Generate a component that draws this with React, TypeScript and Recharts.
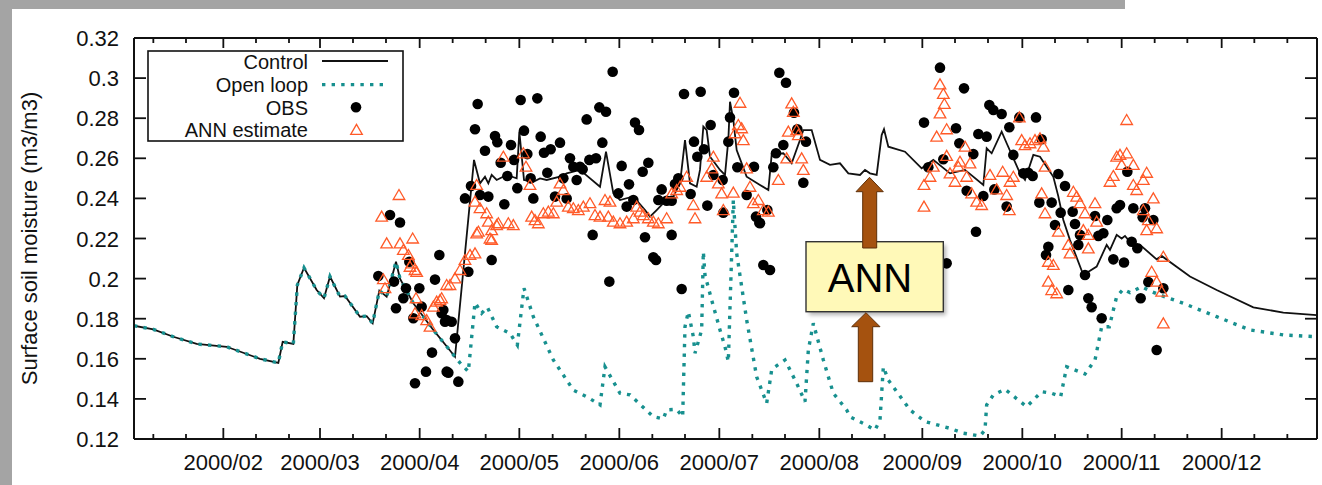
import {
  ComposedChart,
  Line,
  Scatter,
  XAxis,
  YAxis,
  Legend,
} from 'recharts';

// x = days from the left edge of the plot, y = m3/m3
const FONT = '"Liberation Sans", Arial, Helvetica, sans-serif';

const MONTH_LABELS = ['2000/02', '2000/03', '2000/04', '2000/05', '2000/06', '2000/07', '2000/08', '2000/09', '2000/10', '2000/11', '2000/12'];
const MAJOR_TICKS = [26.8, 55.8, 85.7, 115.6, 145.6, 175.6, 205.6, 236.5, 266.5, 296.3, 326.3];
const MINOR_TICKS = [5.8, 15.6, 36.6, 46.5, 65.7, 75.6, 95.6, 105.5, 125.6, 135.5, 155.5, 165.3, 185.5, 195.3, 215.4, 225.2, 246.3, 256.2, 276.3, 286.1, 306.2, 316.0, 336.1, 346.0];
const Y_TICKS = [0.12, 0.14, 0.16, 0.18, 0.2, 0.22, 0.24, 0.26, 0.28, 0.3, 0.32];
const X_DOMAIN = [0, 354.9];
const Y_DOMAIN = [0.12, 0.32];

const SERIES_NAMES = ['Control', 'Open loop', 'OBS', 'ANN estimate'];

// winter / early spring: control and open loop are the same run
const SHARED_RUN: [number, number][] = [
  [0, 0.1765], [5.8, 0.1747], [11.8, 0.171], [18.8, 0.1674], [27.8, 0.166], [37.8, 0.16],
  [43.3, 0.158], [44.6, 0.1685], [47.8, 0.1674], [49.0, 0.1968], [51.0, 0.2054], [54.8, 0.1943],
  [57.0, 0.1902], [58.8, 0.201], [61.8, 0.191], [63.3, 0.1913], [67.8, 0.181], [69.8, 0.1813],
  [71.6, 0.1777], [73.6, 0.194], [75.8, 0.191], [78.6, 0.2084], [79.8, 0.2], [83.8, 0.1877],
  [89.8, 0.1744], [93.9, 0.166], [96.3, 0.161],
];

const CONTROL_REST: [number, number][] = [
  [102.0, 0.2592], [103.8, 0.2475], [105.3, 0.2508], [106.3, 0.2475], [107.3, 0.2517], [108.8, 0.2492],
  [111.8, 0.2517], [114.8, 0.25], [115.6, 0.2733], [117.0, 0.2492], [119.8, 0.2483], [121.8, 0.25],
  [123.8, 0.2492], [127.8, 0.2508], [129.8, 0.2525], [131.8, 0.2533], [133.8, 0.2542], [139.8, 0.2458],
  [141.6, 0.2633], [143.8, 0.2425], [145.8, 0.2392], [149.8, 0.241], [153.3, 0.2342], [154.8, 0.2309],
  [156.8, 0.2342], [158.8, 0.2376], [161.8, 0.241], [163.8, 0.2475], [165.3, 0.2691], [166.8, 0.2475],
  [168.8, 0.2458], [169.8, 0.2542], [170.8, 0.2758], [171.8, 0.2741], [172.8, 0.2608], [174.3, 0.2575],
  [175.8, 0.2542], [177.3, 0.2517], [178.3, 0.2691], [178.8, 0.2882], [179.8, 0.2791], [180.8, 0.2641],
  [182.3, 0.2575], [183.8, 0.2508], [187.8, 0.2467], [190.3, 0.2442], [191.3, 0.2617], [194.8, 0.2625],
  [197.3, 0.2575], [199.8, 0.2691], [200.8, 0.2741], [203.3, 0.2741], [205.8, 0.2592], [208.8, 0.2567],
  [211.8, 0.2575], [214.3, 0.2525], [217.8, 0.2517], [219.3, 0.2542], [220.8, 0.2525], [222.8, 0.2517],
  [224.3, 0.2716], [225.0, 0.2745], [226.3, 0.2658], [231.3, 0.2633], [236.3, 0.255], [239.8, 0.2592],
  [244.8, 0.2525], [249.3, 0.2542], [254.8, 0.2467], [255.8, 0.265], [257.3, 0.2625], [260.3, 0.2733],
  [261.8, 0.2675], [265.8, 0.2525], [267.3, 0.2492], [269.8, 0.2617], [271.8, 0.2608], [275.8, 0.2508],
  [277.3, 0.241], [278.8, 0.2292], [280.8, 0.2192], [284.8, 0.2018], [288.8, 0.206], [291.8, 0.2168],
  [292.8, 0.2143], [294.8, 0.2218], [296.3, 0.22], [297.3, 0.2213], [300.8, 0.2143], [301.8, 0.2168],
  [306.8, 0.2096], [308.3, 0.2113], [316.8, 0.201], [324.8, 0.1943], [335.8, 0.1857], [344.8, 0.183],
  [354.8, 0.1818],
];

const OPEN_LOOP_REST: [number, number][] = [
  [97.8, 0.158], [100.3, 0.1536], [102.3, 0.188], [104.3, 0.1827], [106.0, 0.1857], [108.8, 0.176],
  [112.8, 0.1727], [115.0, 0.1669], [117.0, 0.1952], [119.8, 0.181], [125.8, 0.1594], [131.8, 0.1444],
  [135.8, 0.1411], [139.8, 0.137], [141.3, 0.156], [145.8, 0.1428], [148.8, 0.142], [155.8, 0.1311],
  [158.8, 0.13], [159.8, 0.1345], [162.8, 0.1348], [164.6, 0.1311], [165.3, 0.176], [166.3, 0.1835],
  [167.8, 0.171], [168.3, 0.1628], [170.3, 0.1744], [170.8, 0.2134], [171.3, 0.2018], [173.3, 0.1893],
  [175.8, 0.1744], [177.3, 0.166], [178.3, 0.1586], [179.8, 0.2392], [180.8, 0.2126], [183.8, 0.1794],
  [186.8, 0.151], [189.8, 0.1378], [191.3, 0.1544], [192.3, 0.156], [195.3, 0.1594], [198.8, 0.1478],
  [201.3, 0.1386], [202.3, 0.1644], [203.8, 0.1777], [206.8, 0.1594], [209.8, 0.1428], [213.8, 0.1345],
  [214.8, 0.1311], [218.8, 0.1278], [222.3, 0.1245], [223.8, 0.1295], [224.8, 0.156], [226.3, 0.1494],
  [232.8, 0.1345], [237.3, 0.1287], [244.8, 0.1253], [248.8, 0.1229], [253.8, 0.1215], [255.3, 0.1245],
  [255.8, 0.137], [257.8, 0.142], [261.3, 0.1448], [267.8, 0.1361], [272.3, 0.1436], [275.3, 0.1428],
  [278.0, 0.1411], [279.8, 0.156], [285.3, 0.1524], [288.3, 0.1594], [290.3, 0.176], [292.6, 0.176],
  [293.8, 0.1843], [294.8, 0.191], [296.8, 0.1947], [298.8, 0.193], [302.3, 0.196], [305.3, 0.1935],
  [307.8, 0.1918], [314.8, 0.1877], [324.8, 0.181], [334.8, 0.1744], [344.8, 0.1719], [354.8, 0.171],
];

const OBS: [number, number][] = [
  [73.3, 0.2013], [76.8, 0.2317], [79.8, 0.228], [78.0, 0.1985], [78.6, 0.1852], [80.8, 0.1902],
  [81.6, 0.1952], [82.6, 0.2084], [83.8, 0.1802], [85.6, 0.1952], [84.3, 0.1478], [87.6, 0.1536],
  [86.3, 0.186], [89.4, 0.1631], [90.3, 0.1995], [91.6, 0.2118], [92.8, 0.1843], [93.8, 0.1536],
  [93.8, 0.1793], [92.3, 0.1827], [93.3, 0.1785], [95.3, 0.1785], [96.3, 0.1702], [94.3, 0.1531],
  [97.3, 0.1486], [100.3, 0.2034], [107.3, 0.2093], [137.6, 0.2218], [142.6, 0.1985], [153.3, 0.2206],
  [155.8, 0.2106], [156.6, 0.2093], [161.3, 0.2218], [164.3, 0.1948], [187.8, 0.2276], [188.8, 0.2068],
  [190.8, 0.2043], [99.3, 0.24], [101.1, 0.2462], [103.1, 0.2871], [102.3, 0.2745], [103.8, 0.2417],
  [105.3, 0.2638], [106.3, 0.2409], [108.3, 0.2711], [109.0, 0.268], [110.0, 0.2578], [111.1, 0.2371],
  [112.0, 0.2512], [113.1, 0.2666], [114.0, 0.2592], [115.0, 0.2451], [116.0, 0.2891], [117.0, 0.2738],
  [118.0, 0.2621], [119.0, 0.25], [119.8, 0.24], [121.0, 0.2899], [122.0, 0.2708], [123.0, 0.2628],
  [124.0, 0.2528], [125.0, 0.2645], [126.3, 0.2409], [127.8, 0.2678], [128.8, 0.25], [129.8, 0.24],
  [130.8, 0.26], [131.8, 0.2558], [132.8, 0.2492], [133.8, 0.2558], [134.6, 0.2545], [135.8, 0.2794],
  [136.6, 0.2592], [138.6, 0.26], [139.6, 0.2854], [140.5, 0.2678], [141.6, 0.2832], [143.6, 0.3032],
  [145.3, 0.2425], [146.3, 0.2562], [147.8, 0.2359], [148.5, 0.247], [149.8, 0.2392], [150.3, 0.2778],
  [151.5, 0.2741], [152.6, 0.2533], [154.3, 0.2578], [157.3, 0.2392], [158.3, 0.2445], [159.8, 0.2388],
  [161.3, 0.2388], [162.3, 0.2472], [163.3, 0.25], [165.0, 0.2921], [167.0, 0.2422], [168.0, 0.2683],
  [169.0, 0.2608], [170.0, 0.2932], [171.0, 0.2645], [172.0, 0.2364], [173.0, 0.2766], [173.8, 0.2517],
  [176.6, 0.2492], [176.8, 0.2329], [178.3, 0.2683], [178.8, 0.2804], [180.0, 0.2927], [181.0, 0.2555],
  [183.8, 0.2417], [186.0, 0.2558], [186.6, 0.2309], [187.6, 0.2279], [190.0, 0.2342], [191.8, 0.2555],
  [192.6, 0.2625], [193.6, 0.3027], [194.8, 0.2666], [195.6, 0.2977], [198.0, 0.2827], [199.0, 0.2745],
  [200.8, 0.2478], [201.6, 0.2683], [241.8, 0.3052], [237.0, 0.2778], [249.0, 0.2949], [256.6, 0.2866],
  [257.8, 0.2841], [260.3, 0.2821], [246.6, 0.275], [247.6, 0.2675], [253.3, 0.2721], [255.8, 0.2708],
  [251.8, 0.2621], [242.8, 0.2595], [238.3, 0.2555], [249.8, 0.2438], [254.8, 0.2412], [252.6, 0.2234],
  [258.1, 0.2445], [261.8, 0.2359], [262.6, 0.2755], [265.6, 0.2804], [263.8, 0.2617], [266.8, 0.2525],
  [268.3, 0.2528], [269.6, 0.2512], [270.6, 0.2804], [272.3, 0.2695], [271.6, 0.2379], [275.3, 0.2379],
  [277.3, 0.2522], [279.3, 0.2462], [278.0, 0.2329], [276.3, 0.2267], [281.6, 0.2334], [282.3, 0.2272],
  [283.8, 0.2218], [288.3, 0.2312], [292.0, 0.2292], [289.3, 0.2213], [290.8, 0.2226], [294.8, 0.2351],
  [295.8, 0.2367], [298.0, 0.2533], [299.8, 0.2351], [303.3, 0.2351], [302.6, 0.2306], [305.8, 0.2292],
  [274.3, 0.2159], [243.8, 0.2076], [273.6, 0.2118], [280.3, 0.1943], [283.3, 0.2168], [285.3, 0.2018],
  [286.3, 0.1902], [287.3, 0.1857], [290.3, 0.1802], [293.8, 0.2096], [297.0, 0.208], [299.3, 0.2184],
  [301.0, 0.2151], [302.0, 0.1902], [304.3, 0.1983], [308.8, 0.1952], [306.8, 0.1644],
];

const ANN: [number, number][] = [
  [74.3, 0.2309], [75.8, 0.2176], [79.8, 0.2176], [83.6, 0.22], [80.8, 0.2143], [82.3, 0.2118],
  [79.5, 0.2417], [74.8, 0.1997], [75.3, 0.1952], [82.8, 0.2059], [84.3, 0.2043], [84.6, 0.1902],
  [84.3, 0.1827], [86.3, 0.1818], [87.8, 0.1793], [88.8, 0.176], [89.8, 0.186], [91.8, 0.1893],
  [93.8, 0.1968], [83.3, 0.2076], [84.8, 0.2034], [90.8, 0.1885], [92.3, 0.1902], [94.8, 0.1968],
  [96.3, 0.2001], [97.8, 0.2043], [99.3, 0.2093], [100.8, 0.2118], [102.3, 0.2126], [102.8, 0.2226],
  [106.8, 0.22], [107.3, 0.2242], [108.8, 0.2267], [113.8, 0.2267], [102.8, 0.2467], [102.3, 0.2384],
  [103.8, 0.2351], [105.8, 0.2326], [106.3, 0.2284], [109.3, 0.2276], [103.3, 0.2234], [107.3, 0.2193],
  [110.8, 0.2608], [112.3, 0.2276], [116.8, 0.2625], [117.6, 0.2558], [118.8, 0.2467], [119.3, 0.2309],
  [120.3, 0.2292], [121.3, 0.2276], [122.8, 0.2326], [124.3, 0.2334], [125.8, 0.2326], [127.8, 0.2475],
  [128.8, 0.2442], [126.8, 0.2384], [130.3, 0.2359], [131.8, 0.2351], [133.3, 0.2342], [134.8, 0.2359],
  [136.8, 0.2376], [138.3, 0.2317], [139.8, 0.2309], [141.3, 0.2392], [142.8, 0.2384], [142.3, 0.2309],
  [143.8, 0.2284], [145.8, 0.2276], [147.8, 0.2284], [149.8, 0.2301], [150.8, 0.2359], [151.8, 0.2334],
  [152.8, 0.2317], [154.3, 0.2301], [155.8, 0.2284], [157.3, 0.2276], [159.8, 0.2301], [161.3, 0.2425],
  [162.8, 0.2442], [163.8, 0.2458], [165.8, 0.2508], [167.8, 0.2367], [168.3, 0.2301], [171.8, 0.2508],
  [173.3, 0.255], [173.8, 0.2608], [175.3, 0.2475], [176.3, 0.2425], [176.8, 0.2342], [179.8, 0.2429],
  [180.3, 0.2725], [181.3, 0.2766], [181.8, 0.2877], [182.3, 0.275], [182.8, 0.2691], [183.8, 0.255],
  [184.8, 0.2458], [185.8, 0.2376], [187.3, 0.2392], [188.8, 0.2342], [190.3, 0.2334], [193.3, 0.2492],
  [195.8, 0.26], [197.3, 0.2874], [197.8, 0.2832], [196.3, 0.2733], [198.8, 0.2741], [199.3, 0.2716],
  [200.3, 0.26], [200.8, 0.2542], [241.8, 0.2969], [242.8, 0.2921], [243.1, 0.2871], [241.8, 0.2824],
  [243.8, 0.2745], [240.8, 0.2708], [243.8, 0.2612], [239.8, 0.2558], [238.8, 0.2508], [237.0, 0.2467],
  [237.0, 0.2359], [244.8, 0.2525], [247.3, 0.2558], [249.3, 0.2658], [250.8, 0.2575], [247.8, 0.2583],
  [246.3, 0.2483], [249.8, 0.2508], [251.3, 0.2425], [252.8, 0.2384], [254.3, 0.2367], [256.8, 0.2517],
  [258.8, 0.2445], [260.6, 0.2533], [261.8, 0.2417], [262.6, 0.2342], [263.8, 0.2508], [262.8, 0.2483],
  [265.6, 0.2804], [266.3, 0.2691], [267.3, 0.2666], [268.8, 0.2675], [270.3, 0.2691], [271.8, 0.27],
  [272.8, 0.2658], [273.3, 0.2558], [272.3, 0.2425], [273.3, 0.2326], [277.3, 0.2234], [280.3, 0.2168],
  [281.8, 0.2433], [282.8, 0.2409], [283.8, 0.2376], [285.3, 0.2326], [284.8, 0.2242], [286.3, 0.2218],
  [288.3, 0.2376], [288.8, 0.2284], [292.8, 0.2483], [293.8, 0.2512], [294.8, 0.2608], [295.8, 0.2617],
  [297.8, 0.2791], [297.8, 0.2625], [296.3, 0.2567], [299.8, 0.2567], [299.8, 0.2467], [300.8, 0.2442],
  [303.8, 0.2528], [302.8, 0.2492], [305.8, 0.24], [302.8, 0.2342], [304.3, 0.2292], [303.8, 0.2242],
  [306.8, 0.2251], [280.8, 0.2126], [286.3, 0.2151], [274.3, 0.2084], [275.8, 0.2068], [274.3, 0.1985],
  [275.3, 0.1943], [276.8, 0.1927], [305.3, 0.2034], [306.8, 0.1985], [308.3, 0.1935], [308.8, 0.2109],
  [308.8, 0.1777],
];

const toRows = (pts: [number, number][]) => pts.map(([day, v]) => ({ day, v }));
const controlData = toRows([...SHARED_RUN, ...CONTROL_REST]);
const openLoopData = toRows([...SHARED_RUN, ...OPEN_LOOP_REST]);
const obsData = toRows(OBS);
const annData = toRows(ANN);

const ALL_X_TICKS = [...MINOR_TICKS, ...MAJOR_TICKS].sort((a, b) => a - b);

const INK = '#111';
const TEAL = '#17908f';
const ANN_COLOR = '#ff5a28';

const isMajor = (v: number) => MAJOR_TICKS.includes(v);

function BottomTick({ x, y, payload }: any) {
  const major = isMajor(payload.value);
  return (
    <g>
      <line x1={x} y1={y} x2={x} y2={y - (major ? 11 : 5)} stroke={INK} strokeWidth={1.8} />
      {major && (
        <text x={x} y={y + 31} textAnchor="middle" fontSize={22} fontFamily={FONT} fill={INK}>
          {MONTH_LABELS[MAJOR_TICKS.indexOf(payload.value)]}
        </text>
      )}
    </g>
  );
}

function TopTick({ x, y, payload }: any) {
  const major = isMajor(payload.value);
  return <line x1={x} y1={y} x2={x} y2={y + (major ? 10 : 5)} stroke={INK} strokeWidth={1.8} />;
}

function LeftTick({ x, y, payload }: any) {
  return (
    <g>
      <line x1={x} y1={y} x2={x + 12} y2={y} stroke={INK} strokeWidth={1.8} />
      <text x={x - 15} y={y + 8} textAnchor="end" fontSize={22} fontFamily={FONT} fill={INK}>
        {String(Number(payload.value.toFixed(2)))}
      </text>
    </g>
  );
}

function RightTick({ x, y }: any) {
  return <line x1={x} y1={y} x2={x - 12} y2={y} stroke={INK} strokeWidth={1.8} />;
}

function YTitle({ viewBox }: any) {
  const cx = (viewBox?.x ?? 0) + 29;
  const cy = (viewBox?.y ?? 38) + (viewBox?.height ?? 401) / 2;
  return (
    <text
      x={cx}
      y={cy}
      transform={`rotate(-90 ${cx} ${cy})`}
      textAnchor="middle"
      dominantBaseline="central"
      fontSize={22}
      fontFamily={FONT}
      fill={INK}
    >
      Surface soil moisture (m3/m3)
    </text>
  );
}

function Triangle({ cx, cy }: any) {
  if (cx == null || cy == null) return null;
  return (
    <polygon
      points={`${cx},${cy - 5.5} ${cx + 5.8},${cy + 4.5} ${cx - 5.8},${cy + 4.5}`}
      fill="none"
      stroke={ANN_COLOR}
      strokeWidth={1.3}
    />
  );
}

function Dot({ cx, cy }: any) {
  if (cx == null || cy == null) return null;
  return <circle cx={cx} cy={cy} r={5.3} fill="#000" />;
}

function LegendBox() {
  const rows = [12, 34.6, 57.2, 79.8];
  return (
    <svg width={258} height={93} style={{ display: 'block' }}>
      <rect x={1} y={1} width={255} height={90} fill="#fff" stroke={INK} strokeWidth={1.6} />
      {SERIES_NAMES.map((name, i) => (
        <text key={name} x={161} y={rows[i] + 7.3} textAnchor="end" fontSize={20} fontFamily={FONT} fill={INK}>
          {name}
        </text>
      ))}
      <line x1={175} y1={rows[0] - 1} x2={241} y2={rows[0] - 1} stroke={INK} strokeWidth={1.8} />
      <line x1={175} y1={rows[1]} x2={241} y2={rows[1]} stroke={TEAL} strokeWidth={3.4} strokeDasharray="3.4 6.2" />
      <Dot cx={209} cy={rows[2]} />
      <Triangle cx={209.5} cy={rows[3]} />
    </svg>
  );
}

function Overlay() {
  const brown = '#a5520f';
  const edge = '#5e2f08';
  return (
    <svg width={1322} height={485} style={{ position: 'absolute', left: 0, top: 0, pointerEvents: 'none' }}>
      <defs>
        <filter id="boxShadow" x="-20%" y="-20%" width="140%" height="140%">
          <feGaussianBlur stdDeviation="2" />
        </filter>
      </defs>
      {/* slide frame */}
      <rect x={0} y={0} width={1125} height={9} fill="#a4a4a4" />
      <rect x={0} y={0} width={12} height={485} fill="#a4a4a4" />
      {/* ANN call-out */}
      <rect x={809} y={245} width={137} height={70} fill="#000" opacity={0.3} filter="url(#boxShadow)" />
      <rect x={806} y={241.7} width={137.3} height={70} fill="#fff9b8" stroke="#333" strokeWidth={1.4} />
      <text x={870} y={292} textAnchor="middle" fontSize={40} fontFamily={FONT} fill="#000">
        ANN
      </text>
      <polygon
        points="862.7,248 862.7,191.7 856,191.7 869.5,177.3 883.3,191.7 876.7,191.7 876.7,248"
        fill={brown}
        stroke={edge}
        strokeWidth={1}
      />
      <polygon
        points="858.3,381.7 858.3,326.7 851.7,326.7 866,312.7 880,326.7 872.7,326.7 872.7,381.7"
        fill={brown}
        stroke={edge}
        strokeWidth={1}
      />
    </svg>
  );
}

export default function App() {
  return (
    <div
      style={{
        position: 'absolute',
        left: 0,
        top: 0,
        width: 1322,
        height: 485,
        background: '#fff',
        fontFamily: FONT,
      }}
    >
      {/* top and right axes get 1px so recharts actually draws them (mirrored gnuplot border) */}
      <ComposedChart width={1322} height={485} margin={{ top: 37, right: 4, bottom: 0, left: 0 }}>
        <XAxis
          dataKey="day"
          type="number"
          domain={X_DOMAIN}
          allowDataOverflow
          ticks={ALL_X_TICKS}
          interval={0}
          height={46}
          tickSize={0}
          tickMargin={0}
          tick={<BottomTick />}
          axisLine={{ stroke: INK, strokeWidth: 2 }}
        />
        <XAxis
          xAxisId="top"
          orientation="top"
          dataKey="day"
          type="number"
          domain={X_DOMAIN}
          allowDataOverflow
          ticks={ALL_X_TICKS}
          interval={0}
          height={1}
          tickSize={0}
          tickMargin={0}
          tick={<TopTick />}
          axisLine={{ stroke: INK, strokeWidth: 2 }}
        />
        <YAxis
          type="number"
          domain={Y_DOMAIN}
          allowDataOverflow
          ticks={Y_TICKS}
          interval={0}
          width={134}
          tickSize={0}
          tickMargin={0}
          tick={<LeftTick />}
          axisLine={{ stroke: INK, strokeWidth: 2 }}
          label={<YTitle />}
        />
        <YAxis
          yAxisId="right"
          orientation="right"
          type="number"
          domain={Y_DOMAIN}
          allowDataOverflow
          ticks={Y_TICKS}
          interval={0}
          width={1}
          tickSize={0}
          tickMargin={0}
          tick={<RightTick />}
          axisLine={{ stroke: INK, strokeWidth: 2 }}
        />
        <Legend
          layout="vertical"
          align="center"
          verticalAlign="middle"
          content={<LegendBox />}
          wrapperStyle={{ left: 147, top: 50, width: 258, height: 93 }}
        />
        {/* invisible copy of the control run bound to the mirrored axes */}
        <Line
          xAxisId="top"
          yAxisId="right"
          data={controlData}
          dataKey="v"
          stroke="none"
          dot={false}
          activeDot={false}
          legendType="none"
          isAnimationActive={false}
        />
        <Line
          data={controlData}
          dataKey="v"
          name="Control"
          type="linear"
          stroke={INK}
          strokeWidth={1.8}
          dot={false}
          isAnimationActive={false}
        />
        <Line
          data={openLoopData}
          dataKey="v"
          name="Open loop"
          type="linear"
          stroke={TEAL}
          strokeWidth={3.4}
          strokeDasharray="3.4 6.2"
          dot={false}
          isAnimationActive={false}
        />
        <Scatter data={obsData} dataKey="v" name="OBS" shape={<Dot />} isAnimationActive={false} />
        <Scatter data={annData} dataKey="v" name="ANN estimate" shape={<Triangle />} isAnimationActive={false} />
      </ComposedChart>
      <Overlay />
    </div>
  );
}
